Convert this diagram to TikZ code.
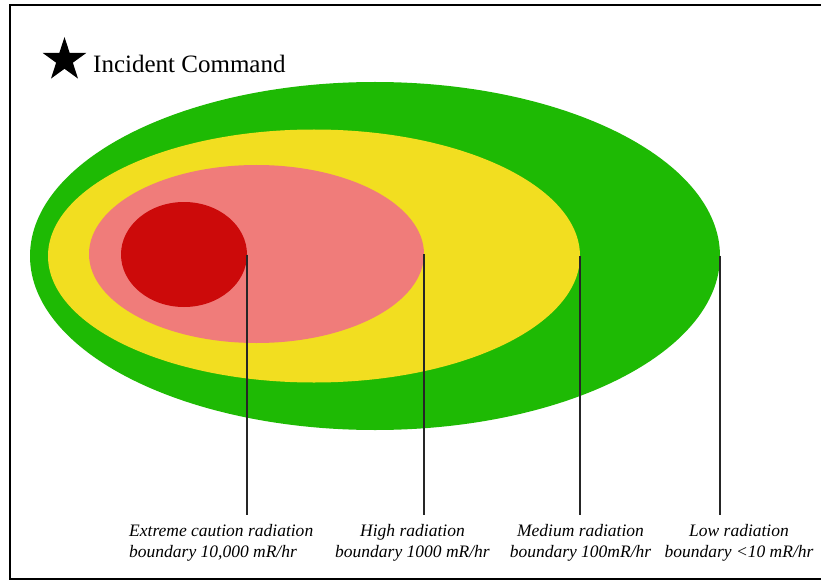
\documentclass[tikz,border=0pt]{standalone}
\usepackage{fontspec}
\setmainfont{Liberation Serif}
\usepackage{tikz}
\usetikzlibrary{shapes.geometric}
\definecolor{lowgreen}{RGB}{30,186,4}
\definecolor{medyellow}{RGB}{242,222,32}
\definecolor{highpink}{RGB}{240,124,122}
\definecolor{extred}{RGB}{204,10,10}
\tikzstyle{Zone}=[ellipse, draw=none, inner sep=0, outer sep=0]
\tikzstyle{Bound}=[font=\fontsize{17.5}{21}\selectfont\itshape, anchor=north, inner xsep=0, inner ysep=9pt]
\tikzstyle{Lead}=[draw=black!85, line width=1.1pt]

\begin{document}
\begin{tikzpicture}[x=1pt, y=-1pt]
    \useasboundingbox (0,0) rectangle (821,580);
    \draw[line width=2pt] (821,5.5) -| (9.5,579) -- (821,579);
    \path
    (375,256) node[Zone, fill=lowgreen, minimum width=690, minimum height=348] (low) {}
    (314,256) node[Zone, fill=medyellow, minimum width=532, minimum height=253] (med) {}
    (256.5,254) node[Zone, fill=highpink, minimum width=335, minimum height=178] (high) {}
    (184,254.5) node[Zone, fill=extred, minimum width=126, minimum height=105] (ext) {};
    \path (64.5,60) node[star, star points=5, star point ratio=2.618, fill=black, inner sep=0, minimum size=46] (ic) {}
    (93,73) node[anchor=base west, inner sep=0, font=\fontsize{25}{30}\selectfont] (iclab) {Incident Command};

    \path (129,515) node[Bound, anchor=north west, align=left] (extlab) {Extreme caution radiation\\boundary 10,000 mR/hr}
    (412.5,515) node[Bound, align=center] (highlab) {High radiation\\boundary 1000 mR/hr}
    (580.5,515) node[Bound, align=center] (medlab) {Medium radiation\\boundary 100mR/hr}
    (739,515) node[Bound, align=center] (lowlab) {Low radiation\\boundary <10 mR/hr};

    \draw[Lead] (ext.east) -- (ext.east |- extlab.north);
    \draw[Lead] (high.east) -- (high.east |- highlab.north);
    \draw[Lead] (med.east) -- (med.east |- medlab.north);
    \draw[Lead] (low.east) -- (low.east |- lowlab.north);
\end{tikzpicture}
\end{document}
